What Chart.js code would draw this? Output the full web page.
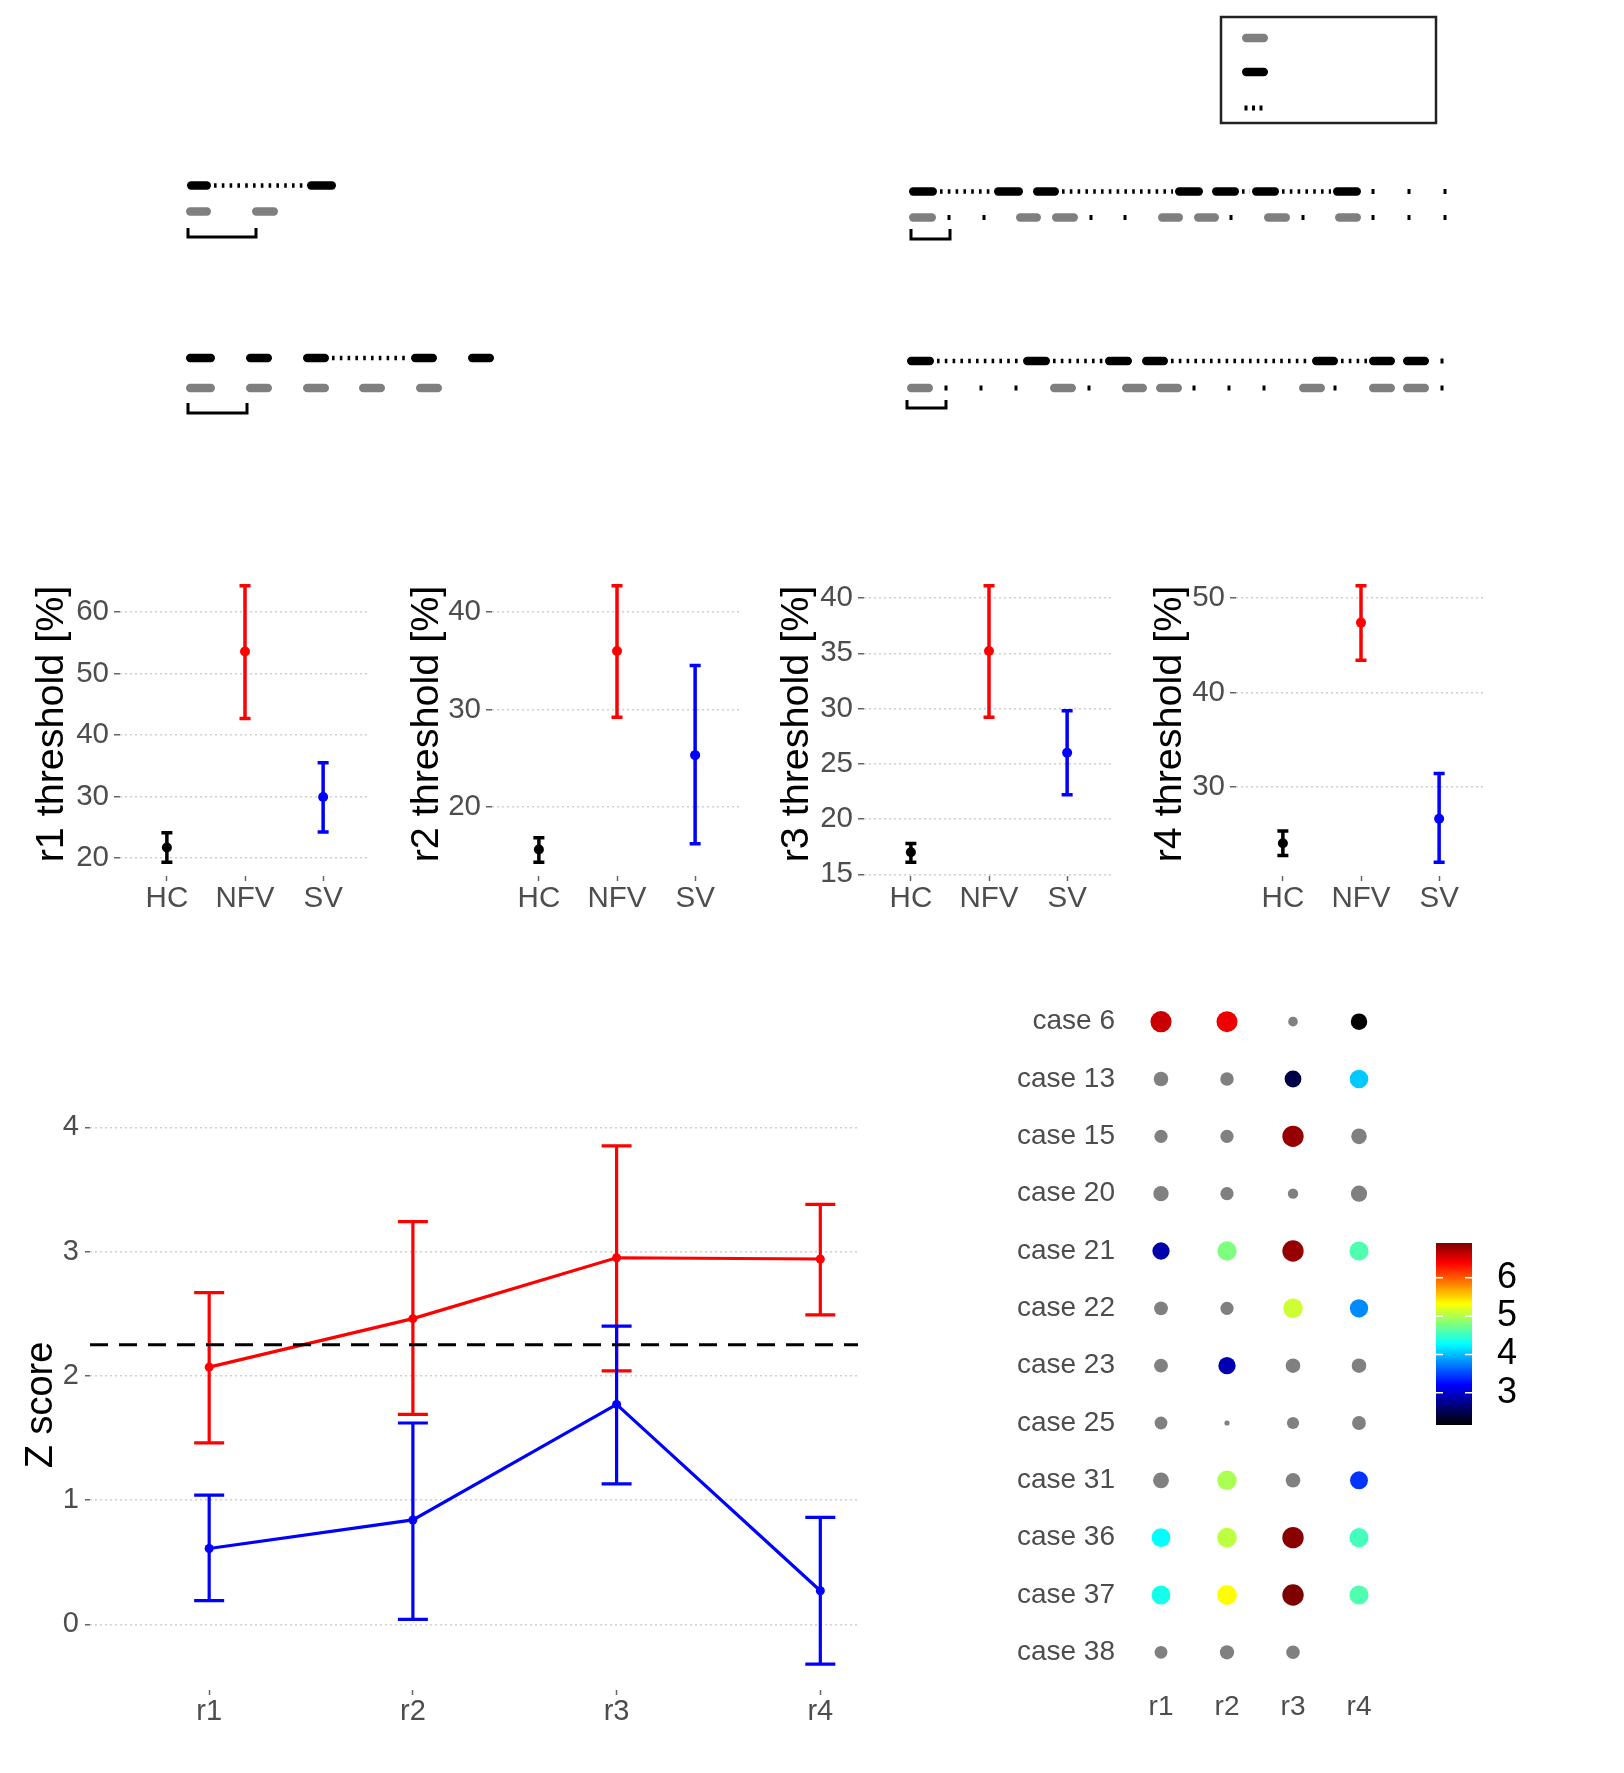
<!DOCTYPE html>
<html>
<head>
<meta charset="utf-8">
<script src="https://cdn.jsdelivr.net/npm/chart.js@4.4.1/dist/chart.umd.min.js"></script>
<style>
html,body{margin:0;padding:0;background:#fff;}
body{width:1624px;height:1773px;position:relative;overflow:hidden;}
canvas{position:absolute;}
</style>
</head>
<body>
<canvas id="schematic" width="1624" height="460" style="left:0px;top:0px"></canvas>
<canvas id="p1" width="400" height="400" style="left:-1px;top:540px"></canvas>
<canvas id="p2" width="400" height="400" style="left:371px;top:540px"></canvas>
<canvas id="p3" width="400" height="400" style="left:743px;top:540px"></canvas>
<canvas id="p4" width="400" height="400" style="left:1115px;top:540px"></canvas>
<canvas id="zpanel" width="900" height="660" style="left:0px;top:1090px"></canvas>
<canvas id="matrix" width="470" height="790" style="left:958px;top:960px"></canvas>
<canvas id="cbar" width="150" height="230" style="left:1416px;top:1220px"></canvas>
<script>
// ------------------------------------------------------------------
// DATA
// ------------------------------------------------------------------
// Top schematic (positions along the schematic axes)
const schemBlackDashes = [[187,211,185.5],[307,336,185.5],
  [186,215,358],[246,272,358],[303,329,358],[411,437,358],[468,494,358],
  [909,937,191.5],[994,1023,191.5],[1033,1059,191.5],[1175,1203,191.5],[1212,1239,191.5],[1252,1279,191.5],[1333,1361,191.5],
  [907,934,361],[1023,1050,361],[1105,1132,361],[1142,1168,361],[1312,1338,361],[1369,1395,361],[1403,1429,361]];
const schemGreyDashes = [[186,211,211.5],[252,278,211.5],
  [186,215,388],[246,272,388],[303,329,388],[359,385,388],[416,442,388],
  [909,936,217.5],[1016,1041,217.5],[1052,1078,217.5],[1158,1183,217.5],[1194,1219,217.5],[1264,1290,217.5],[1335,1361,217.5],
  [907,933,388],[1050,1076,388],[1122,1147,388],[1156,1182,388],[1299,1325,388],[1369,1395,388],[1403,1429,388]];
const schemDotted = [[211,307,185.5],[329,411,358],
  [937,994,191.5],[1059,1175,191.5],[1239,1252,191.5],[1279,1333,191.5],
  [934,1023,361],[1050,1105,361],[1168,1312,361],[1338,1369,361]];
const schemMarks = [[1373,191.5],[1409,191.5],[1445,191.5],
  [949,217.5],[984,217.5],[1091,217.5],[1125,217.5],[1231,217.5],[1303,217.5],[1373,217.5],[1409,217.5],[1445,217.5],
  [1442,361],
  [946,388],[981,388],[1016,388],[1089,388],[1194,388],[1229,388],[1264,388],[1335,388],[1442,388],
  [1246,108],[1253.5,108],[1261,108]];
const schemBrackets = [[188,256,228,237],[188,247,403,413],[911,950,229,239],[907,946,400,408]];
const schemLegendBox = [1221,17,1436,123];
const schemLegendGrey = [1242,1268,38];
const schemLegendBlack = [1242,1268,72];

// Threshold panels
const groups = ['HC','NFV','SV'];
const r1Mean = [21.7, 53.6, 29.9];
const r1Low  = [19.3, 42.7, 24.2];
const r1High = [24.1, 64.3, 35.5];
const r2Mean = [15.6, 36.0, 25.3];
const r2Low  = [14.3, 29.2, 16.2];
const r2High = [16.8, 42.7, 34.5];
const r3Mean = [17.0, 35.2, 26.0];
const r3Low  = [16.1, 29.2, 22.2];
const r3High = [17.8, 41.1, 29.8];
const r4Mean = [24.0, 47.4, 26.6];
const r4Low  = [22.7, 43.4, 22.0];
const r4High = [25.3, 51.3, 31.4];
const r1Ticks = [20,30,40,50,60];
const r2Ticks = [20,30,40];
const r3Ticks = [15,20,25,30,35,40];
const r4Ticks = [30,40,50];

// Z score panel
const regions = ['r1','r2','r3','r4'];
const nfvZ     = [2.07, 2.46, 2.95, 2.94];
const nfvZLow  = [1.46, 1.69, 2.04, 2.49];
const nfvZHigh = [2.67, 3.24, 3.85, 3.38];
const svZ      = [0.61, 0.84, 1.77, 0.27];
const svZLow   = [0.19, 0.04, 1.13, -0.32];
const svZHigh  = [1.04, 1.62, 2.40, 0.86];
const zCutoff  = 2.25;
const zTicks   = [0,1,2,3,4];

// Case matrix
const cases = ['case 6','case 13','case 15','case 20','case 21','case 22','case 23','case 25','case 31','case 36','case 37','case 38'];
const caseZ = [
  [ 6.60,  6.45, -2.35, 2.16],
  [ 0.66, -0.08,  2.45, 4.05],
  [-0.29, -0.29,  6.81, 1.45],
  [ 1.21, -0.29, -1.98, 1.90],
  [ 2.87,  4.80,  6.81, 4.60],
  [ 0.13, -0.29,  5.12, 3.79],
  [ 0.13,  2.90,  0.66, 0.66],
  [-0.57, -4.04, -0.96, 0.13],
  [ 1.70,  4.98,  0.66, 3.43],
  [ 4.27,  5.05,  6.87, 4.55],
  [ 4.35,  5.33,  6.91, 4.60],
  [-0.57,  0.43, -0.08, null]
];
const colourCutoff = 2.0;
const colourbarTicks = [3,4,5,6];

// ------------------------------------------------------------------
// STYLE
// ------------------------------------------------------------------
const FONT = "'Liberation Sans', Arial, Helvetica, sans-serif";
Chart.defaults.font.family = FONT;
const TICK_GREY = '#4d4d4d';
const GRID_GREY = '#cfcfcf';
const groupColours = ['#000000', '#ff0000', '#0000ff'];
const jetColours = ['#000000','#00007f','#0000ff','#007fff','#00ffff','#7fff7f','#ffff00','#ff7f00','#ff0000','#7f0000'];

function hexToRgb(h){ return [parseInt(h.substr(1,2),16), parseInt(h.substr(3,2),16), parseInt(h.substr(5,2),16)]; }
const colouredValues = caseZ.flat().filter(v => v !== null && v >= colourCutoff);
const cMin = Math.min(...colouredValues), cMax = Math.max(...colouredValues);
function jet(v){
  const t = Math.max(0, Math.min(1, (v - cMin) / (cMax - cMin))) * (jetColours.length - 1);
  const i = Math.min(Math.floor(t), jetColours.length - 2), f = t - i;
  const a = hexToRgb(jetColours[i]), b = hexToRgb(jetColours[i+1]);
  const c = a.map((x, k) => Math.round(x + (b[k] - x) * f));
  return `rgb(${c[0]},${c[1]},${c[2]})`;
}
function dotRadius(z){ return 1.04 * Math.sqrt(Math.max(16, 172 + 36.4 * z)) / 2; }

const base = { responsive:false, animation:false, devicePixelRatio:1, events:[] };
const setTicks = list => s => { s.ticks = list.map(v => ({ value: v })); };

// ------------------------------------------------------------------
// SCHEMATIC
// ------------------------------------------------------------------
const schematicPlugin = {
  id: 'schematic',
  afterDraw(chart){
    const {ctx, scales:{x, y}} = chart;
    const px = v => x.getPixelForValue(v), py = v => y.getPixelForValue(v);
    ctx.save();
    const dash = (d, col) => {
      ctx.fillStyle = col;
      ctx.beginPath();
      ctx.roundRect(px(d[0]), py(d[2]) - 4.2, px(d[1]) - px(d[0]), 8.4, 4.2);
      ctx.fill();
    };
    const dots = d => {
      ctx.strokeStyle = '#000'; ctx.lineWidth = 4.5; ctx.setLineDash([2.6, 5.2]);
      ctx.beginPath(); ctx.moveTo(px(d[0]) + 3, py(d[2])); ctx.lineTo(px(d[1]) - 2, py(d[2])); ctx.stroke();
      ctx.setLineDash([]);
    };
    schemDotted.forEach(dots);
    schemBlackDashes.forEach(d => dash(d, '#000000'));
    schemGreyDashes.forEach(d => dash(d, '#7f7f7f'));
    ctx.fillStyle = '#000';
    schemMarks.forEach(m => ctx.fillRect(px(m[0]) - 1.5, py(m[1]) - 2.5, 3, 5));
    ctx.strokeStyle = '#000'; ctx.lineWidth = 3;
    schemBrackets.forEach(b => {
      ctx.beginPath();
      ctx.moveTo(px(b[0]), py(b[2])); ctx.lineTo(px(b[0]), py(b[3]));
      ctx.lineTo(px(b[1]), py(b[3])); ctx.lineTo(px(b[1]), py(b[2]));
      ctx.stroke();
    });
    ctx.strokeStyle = '#222'; ctx.lineWidth = 2.5;
    const lb = schemLegendBox;
    ctx.strokeRect(px(lb[0]), py(lb[1]), px(lb[2]) - px(lb[0]), py(lb[3]) - py(lb[1]));
    dash(schemLegendGrey, '#7f7f7f');
    dash(schemLegendBlack, '#000000');
    ctx.restore();
  }
};
new Chart(document.getElementById('schematic'), {
  type: 'scatter',
  data: { datasets: [] },
  options: { ...base, layout:{padding:0},
    plugins:{legend:{display:false}, tooltip:{enabled:false}},
    scales:{ x:{type:'linear', display:false, min:0, max:1624}, y:{type:'linear', display:false, min:0, max:460, reverse:true} } },
  plugins:[schematicPlugin]
});

// ------------------------------------------------------------------
// ERROR BAR helper
// ------------------------------------------------------------------
function errorBars(series, capHalf, width){
  return {
    id: 'errorBars',
    beforeDatasetsDraw(chart){
      const {ctx, scales:{x, y}} = chart;
      ctx.save();
      ctx.lineWidth = width; ctx.lineCap = 'butt';
      series.forEach(s => {
        s.low.forEach((lo, i) => {
          const xp = x.getPixelForValue(i + 1);
          const yl = y.getPixelForValue(lo), yh = y.getPixelForValue(s.high[i]);
          ctx.strokeStyle = Array.isArray(s.colour) ? s.colour[i] : s.colour;
          ctx.beginPath();
          ctx.moveTo(xp, yl); ctx.lineTo(xp, yh);
          ctx.moveTo(xp - capHalf, yl); ctx.lineTo(xp + capHalf, yl);
          ctx.moveTo(xp - capHalf, yh); ctx.lineTo(xp + capHalf, yh);
          ctx.stroke();
        });
      });
      ctx.restore();
    }
  };
}

// ------------------------------------------------------------------
// THRESHOLD PANELS
// ------------------------------------------------------------------
function thresholdPanel(id, title, mean, low, high, yTicks, titlePad){
  const all = low.concat(high, mean);
  const lo = Math.min(...all), hi = Math.max(...all), pad = (hi - lo) * 0.05;
  new Chart(document.getElementById(id), {
    type: 'scatter',
    data: { datasets: [{ data: mean.map((v, i) => ({x: i + 1, y: v})),
      pointRadius: 5, pointBackgroundColor: groupColours, pointBorderWidth: 0 }] },
    options: { ...base,
      layout: { padding: { top: 32, right: 29, left: 0, bottom: 0 } },
      plugins: { legend: {display:false}, tooltip: {enabled:false} },
      scales: {
        x: { type:'linear', min:0.4, max:3.6, afterBuildTicks: setTicks([1,2,3]),
          ticks: { callback: v => groups[v - 1], font:{size:29.5}, color:TICK_GREY, padding:0, maxRotation:0, autoSkip:false },
          grid: { drawOnChartArea:false, tickLength:5, tickColor:'#666', tickWidth:1.5 },
          border: { display:false },
          afterFit: s => { s.height = 64; } },
        y: { type:'linear', min: lo - pad, max: hi + pad, afterBuildTicks: setTicks(yTicks),
          ticks: { font:{size:29.5}, color:TICK_GREY, padding:5, autoSkip:false },
          grid: { color:GRID_GREY, lineWidth:1.5, tickLength:6, tickColor:'#666', tickWidth:1.5, borderDash:[2,3] },
          border: { display:false, dash:[2,3] },
          title: { display:true, text:title, font:{size:39.5}, color:'#000', padding:{top:titlePad, bottom:0} },
          afterFit: s => { s.width = 121; } }
      }
    },
    plugins: [errorBars([{low, high, colour: groupColours}], 5.5, 3.5)]
  });
}
thresholdPanel('p1', 'r1 threshold [%]', r1Mean, r1Low, r1High, r1Ticks, 29.5);
thresholdPanel('p2', 'r2 threshold [%]', r2Mean, r2Low, r2High, r2Ticks, 32.5);
thresholdPanel('p3', 'r3 threshold [%]', r3Mean, r3Low, r3High, r3Ticks, 30.5);
thresholdPanel('p4', 'r4 threshold [%]', r4Mean, r4Low, r4High, r4Ticks, 31.5);

// ------------------------------------------------------------------
// Z SCORE PANEL
// ------------------------------------------------------------------
(function(){
  const all = nfvZLow.concat(nfvZHigh, svZLow, svZHigh);
  const lo = Math.min(...all), hi = Math.max(...all), pad = (hi - lo) * 0.05;
  const xMin = 0.415, xMax = 4.185;
  const line = (vals, col) => ({ data: vals.map((v, i) => ({x: i + 1, y: v})), showLine:true,
    borderColor: col, backgroundColor: col, borderWidth: 3.2, pointRadius: 4.5, pointBorderWidth: 0 });
  new Chart(document.getElementById('zpanel'), {
    type: 'scatter',
    data: { datasets: [
      { data: [{x: xMin, y: zCutoff}, {x: xMax, y: zCutoff}], showLine:true, borderColor:'#000',
        borderWidth: 3.2, borderDash: [18, 11], pointRadius: 0 },
      line(nfvZ, '#ff0000'),
      line(svZ, '#0000ff')
    ] },
    options: { ...base,
      layout: { padding: { top: 30, right: 42, left: 0, bottom: 0 } },
      plugins: { legend:{display:false}, tooltip:{enabled:false} },
      scales: {
        x: { type:'linear', min:xMin, max:xMax, afterBuildTicks: setTicks([1,2,3,4]),
          ticks: { callback: v => regions[v - 1], font:{size:29}, color:TICK_GREY, padding:0, maxRotation:0, autoSkip:false },
          grid: { drawOnChartArea:false, tickLength:5, tickColor:'#666', tickWidth:1.5 },
          border: { display:false },
          afterFit: s => { s.height = 60; } },
        y: { type:'linear', min: lo - pad, max: hi + pad, afterBuildTicks: setTicks(zTicks),
          ticks: { font:{size:29}, color:TICK_GREY, padding:6, autoSkip:false },
          grid: { color:GRID_GREY, lineWidth:1.5, tickLength:5, tickColor:'#666', tickWidth:1.5, borderDash:[2,3] },
          border: { display:false, dash:[2,3] },
          title: { display:true, text:'Z score', font:{size:38}, color:'#000', padding:{top:19, bottom:0} },
          afterFit: s => { s.width = 90; } }
      }
    },
    plugins: [errorBars([{low:nfvZLow, high:nfvZHigh, colour:'#ff0000'}, {low:svZLow, high:svZHigh, colour:'#0000ff'}], 15, 3.2)]
  });
})();

// ------------------------------------------------------------------
// CASE MATRIX
// ------------------------------------------------------------------
(function(){
  const pts = [];
  caseZ.forEach((row, r) => row.forEach((z, c) => { if (z !== null) pts.push({x: c + 1, y: r + 1, z}); }));
  new Chart(document.getElementById('matrix'), {
    type: 'scatter',
    data: { datasets: [{ data: pts,
      pointRadius: ctx => dotRadius(ctx.raw.z),
      pointBackgroundColor: ctx => ctx.raw.z >= colourCutoff ? jet(ctx.raw.z) : '#808080',
      pointBorderWidth: 0 }] },
    options: { ...base,
      layout: { padding: { top: 33, right: 36, left: 0, bottom: 0 } },
      plugins: { legend:{display:false}, tooltip:{enabled:false} },
      scales: {
        x: { type:'linear', min:0.5, max:4.5, afterBuildTicks: setTicks([1,2,3,4]),
          ticks: { callback: v => regions[v - 1], font:{size:28}, color:TICK_GREY, padding:9, maxRotation:0, autoSkip:false },
          grid: { display:false, drawTicks:false }, border: { display:false },
          afterFit: s => { s.height = 69; } },
        y: { type:'linear', min:0.5, max:12.5, reverse:true, afterBuildTicks: setTicks(cases.map((c, i) => i + 1)),
          ticks: { callback: v => cases[v - 1], font:{size:28}, color:TICK_GREY, padding:13, autoSkip:false },
          grid: { display:false, drawTicks:false }, border: { display:false },
          afterFit: s => { s.width = 170; } }
      }
    }
  });
})();

// ------------------------------------------------------------------
// COLOUR BAR
// ------------------------------------------------------------------
(function(){
  const tickPlugin = {
    id: 'cbTicks',
    afterDatasetsDraw(chart){
      const {ctx, chartArea:a, scales:{y}} = chart;
      ctx.save(); ctx.strokeStyle = '#ffffff'; ctx.lineWidth = 1.5;
      colourbarTicks.forEach(v => {
        const yp = y.getPixelForValue(v);
        ctx.beginPath();
        ctx.moveTo(a.left, yp); ctx.lineTo(a.left + 7, yp);
        ctx.moveTo(a.right - 7, yp); ctx.lineTo(a.right, yp);
        ctx.stroke();
      });
      ctx.restore();
    }
  };
  new Chart(document.getElementById('cbar'), {
    type: 'bar',
    data: { labels: ['z'], datasets: [{ data: [[cMin, cMax]], barPercentage:1, categoryPercentage:1, borderWidth:0,
      backgroundColor: ctx => {
        const ch = ctx.chart, y = ch.scales.y;
        if (!ch.chartArea || !y) return '#888';
        const g = ch.ctx.createLinearGradient(0, y.getPixelForValue(cMin), 0, y.getPixelForValue(cMax));
        jetColours.forEach((c, i) => g.addColorStop(i / (jetColours.length - 1), c));
        return g;
      } }] },
    options: { ...base,
      layout: { padding: { top: 23, bottom: 25, left: 20, right: 0 } },
      plugins: { legend:{display:false}, tooltip:{enabled:false} },
      scales: {
        x: { display:false },
        y: { position:'right', min:cMin, max:cMax, afterBuildTicks: setTicks(colourbarTicks),
          ticks: { font:{size:36}, color:'#000', padding:0, autoSkip:false },
          grid: { display:true, drawOnChartArea:false, drawTicks:true, tickLength:25, tickColor:'rgba(0,0,0,0)' },
          border: { display:false },
          afterFit: s => { s.width = 94; } }
      }
    },
    plugins: [tickPlugin]
  });
})();
</script>
</body>
</html>
